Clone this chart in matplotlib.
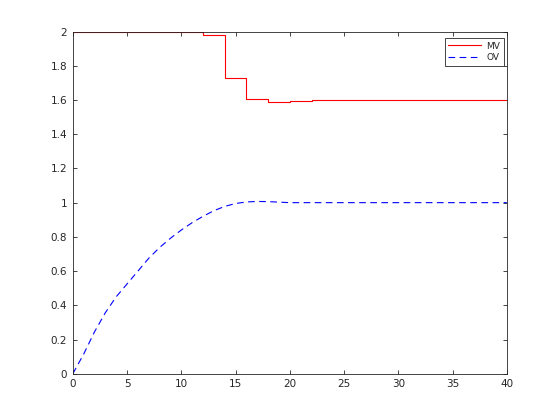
import numpy as np
import matplotlib.pyplot as plt
from matplotlib.ticker import FormatStrFormatter

# data ---------------------------------------------
# MV: zero-order hold, sample time 2
t_mv = [0, 2, 4, 6, 8, 10, 12, 14, 16, 18, 20, 22, 24, 26, 28, 30, 32, 34, 36, 38, 40]
mv = [2.0, 2.0, 2.0, 2.0, 2.0, 2.0, 1.977, 1.730, 1.607, 1.586, 1.592, 1.601,
      1.601, 1.601, 1.601, 1.601, 1.601, 1.601, 1.601, 1.601, 1.601]
# OV: output response
t_ov = list(range(41))
ov = [0.0, 0.115, 0.245, 0.357, 0.45, 0.525, 0.60, 0.675, 0.738, 0.792, 0.84,
      0.883, 0.92, 0.953, 0.978, 0.995, 1.004, 1.007, 1.006, 1.003, 1.0,
      1.0, 1.0, 1.0, 1.0, 1.0, 1.0, 1.0, 1.0, 1.0, 1.0,
      1.0, 1.0, 1.0, 1.0, 1.0, 1.0, 1.0, 1.0, 1.0, 1.0]

#plot
plt.rcParams['font.family'] = 'DejaVu Sans'
plt.rcParams['font.size'] = 7.5
plt.rcParams['xtick.direction'] = 'in'
plt.rcParams['ytick.direction'] = 'in'
plt.rcParams['xtick.major.width'] = 0.6
plt.rcParams['ytick.major.width'] = 0.6
plt.rcParams['xtick.major.size'] = 3
plt.rcParams['ytick.major.size'] = 3

fig = plt.figure(figsize=(5.6, 4.2), dpi=100)
ax = fig.add_axes([0.13, 0.11, 0.775, 0.815])
ax.step(t_mv, mv, where='post', color='red', lw=0.8, label='MV')
ax.plot(t_ov, ov, color='blue', lw=0.8, dashes=(6, 4), label='OV')

ax.set_xlim(0, 40)
ax.set_ylim(0, 2)
ax.set_xticks(np.arange(0, 41, 5))
ax.set_yticks(np.arange(0, 2.01, 0.2))
ax.yaxis.set_major_formatter(FormatStrFormatter('%g'))
ax.tick_params(colors='#262626', top=True, right=True, labelsize=7.5, pad=4)
for s in ax.spines.values():
    s.set_color('#262626')
    s.set_linewidth(0.6)

leg = ax.legend(loc='upper right', bbox_to_anchor=(0.993, 0.981), fontsize=6.5,
                fancybox=False, framealpha=1, edgecolor='#262626',
                handlelength=3.6, borderpad=0.4, labelspacing=0.3,
                handletextpad=0.6, borderaxespad=0)
leg.get_frame().set_linewidth(0.6)
for txt in leg.get_texts():
    txt.set_color('#262626')

fig.savefig('out.png', dpi=100)
